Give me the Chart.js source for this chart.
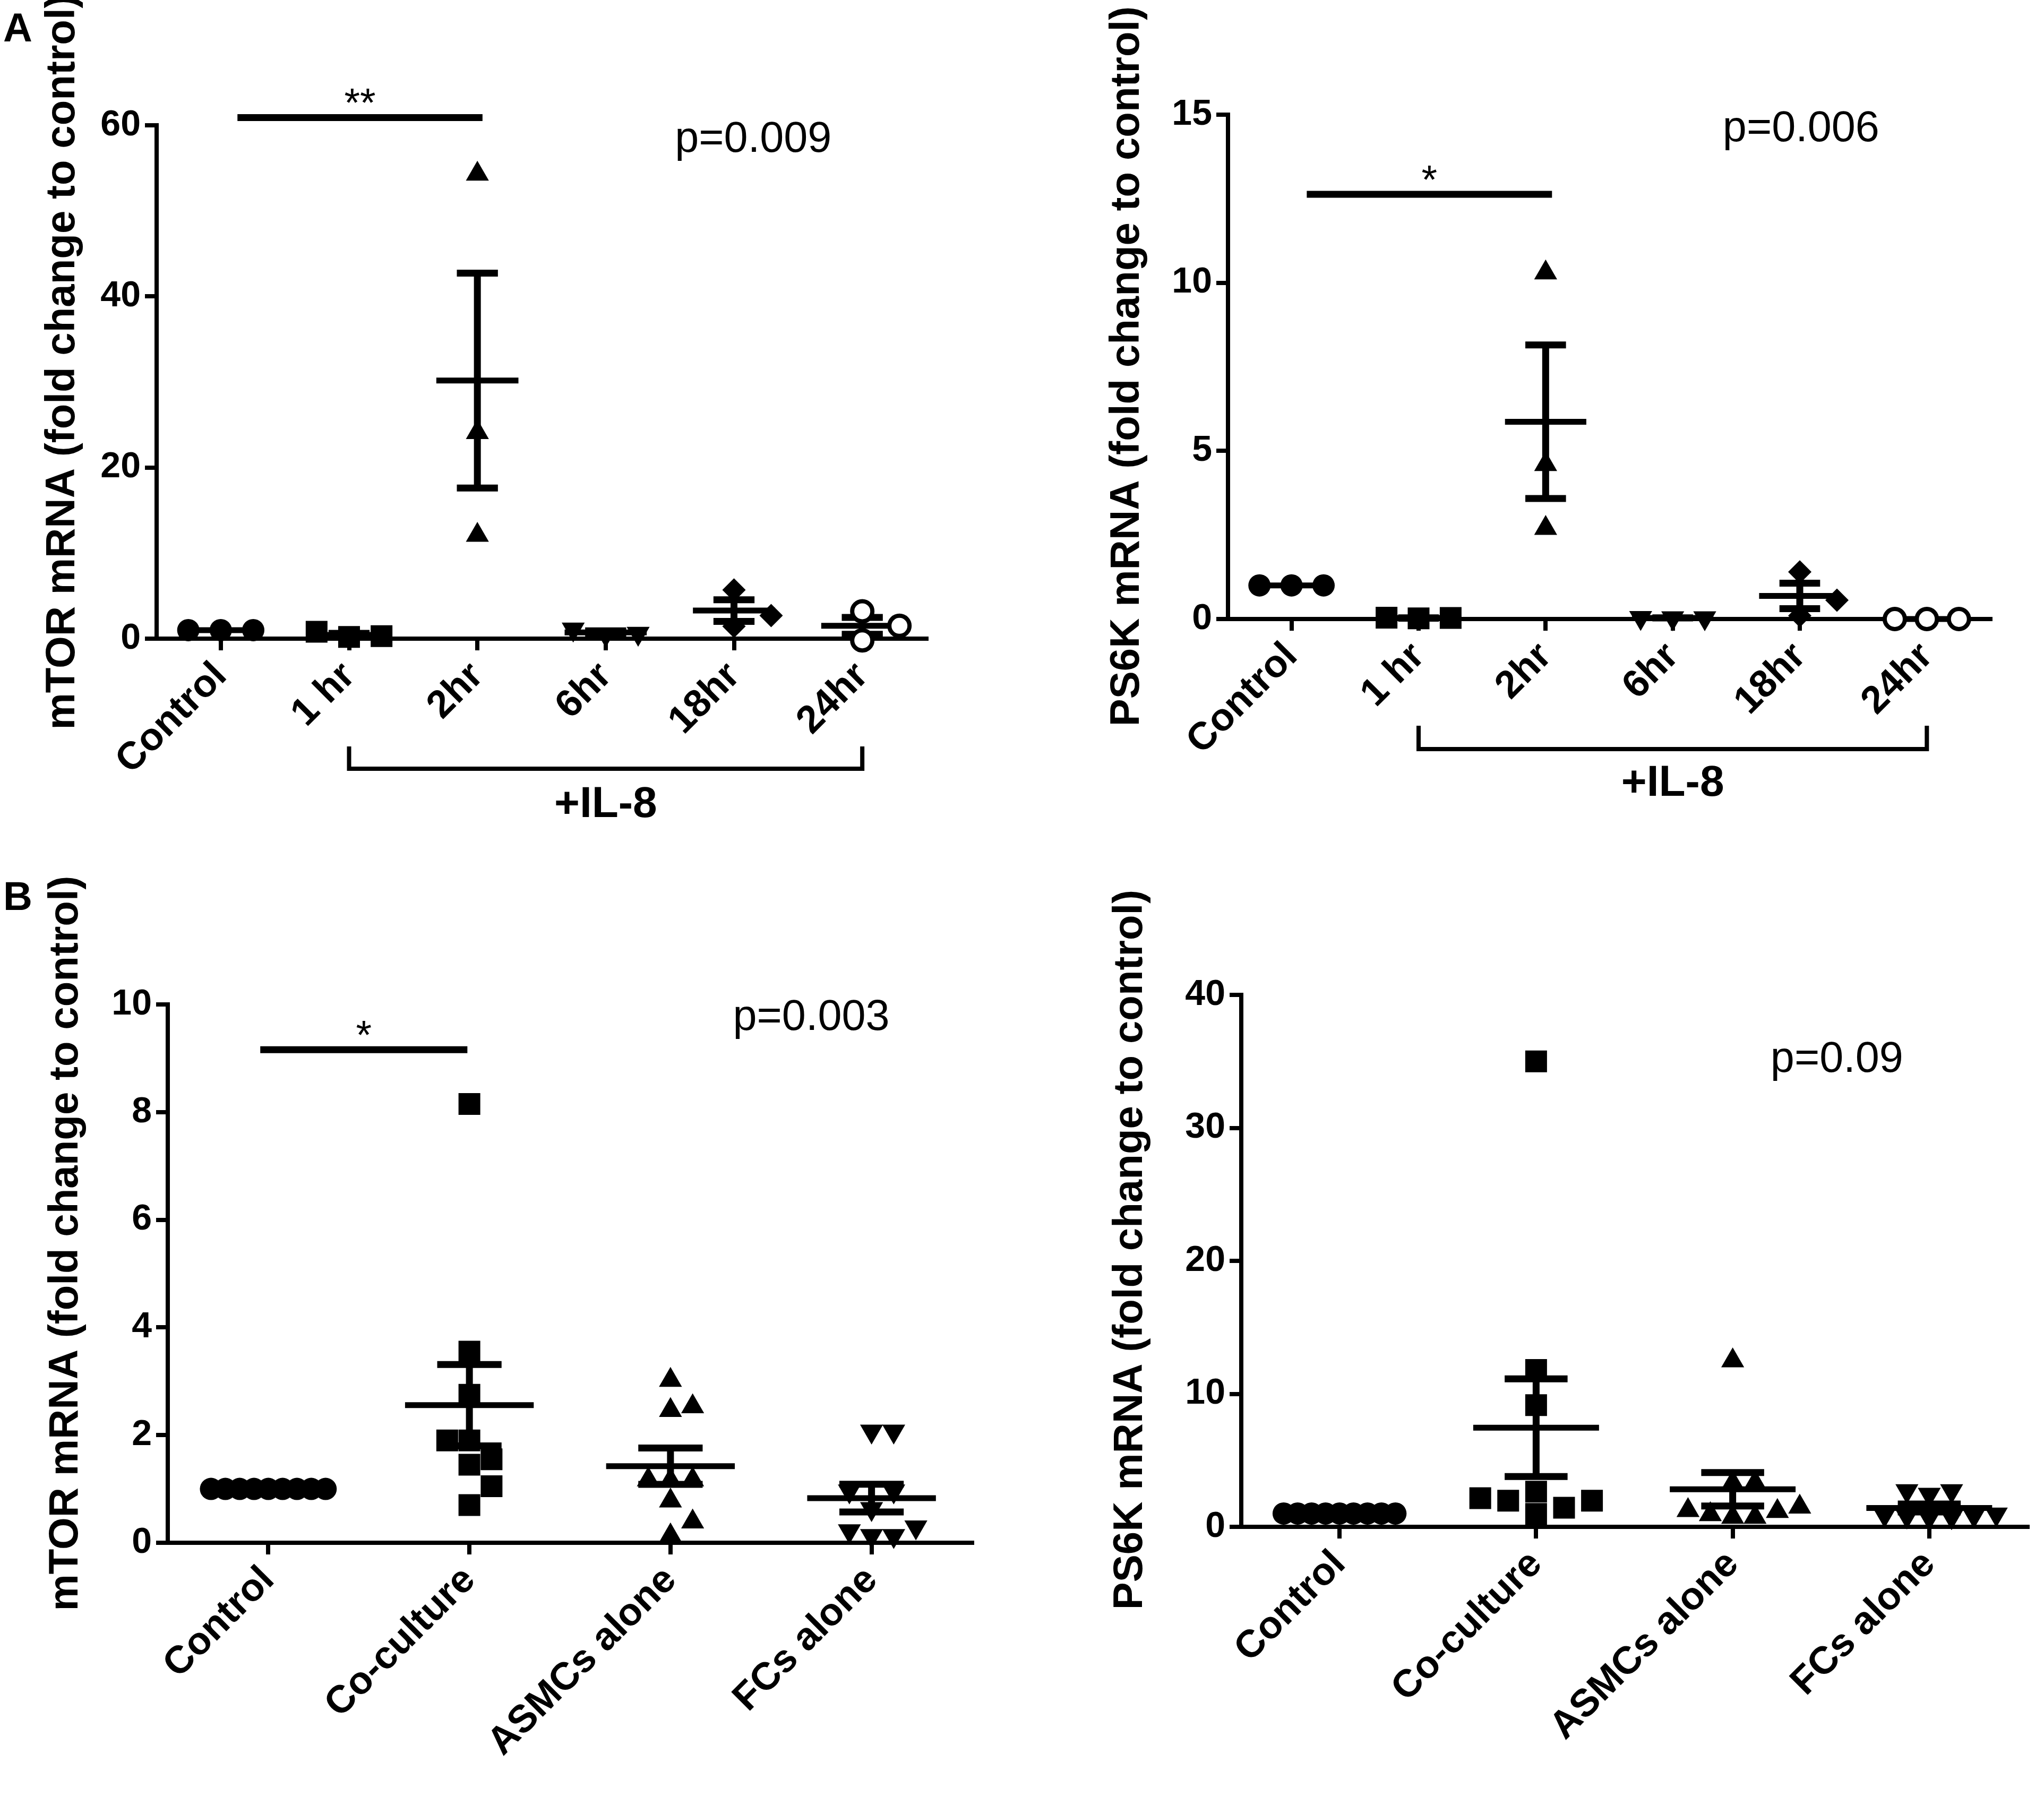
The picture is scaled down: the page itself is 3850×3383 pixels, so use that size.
<!DOCTYPE html>
<html>
<head>
<meta charset="utf-8">
<script src="https://cdn.jsdelivr.net/npm/chart.js@4.4.1/dist/chart.umd.min.js"></script>
<style>
body { margin: 0; background: #fff; width: 3850px; height: 3383px; position: relative; overflow: hidden; font-family: "Liberation Sans", Arial, sans-serif; }
canvas { position: absolute; }
.letter { position: absolute; font-weight: bold; font-size: 76px; line-height: 1; color: #000; }
</style>
</head>
<body>
<div class="letter" style="left:6px;top:14px">A</div>
<div class="letter" style="left:6px;top:1650px">B</div>
<canvas id="chart-a1"></canvas>
<canvas id="chart-a2"></canvas>
<canvas id="chart-b1"></canvas>
<canvas id="chart-b2"></canvas>
<script>
const FONT = '"Liberation Sans", Arial, sans-serif';

// ---- data ----
const timeLabels = ["Control", "1 hr", "2hr", "6hr", "18hr", "24hr"];
const mtorTime = [
    [1, 1, 1],
    [0.2, 0.8, 0.3],
    [54.3, 24.1, 12.1],
    [0.5, 1.1, 0.6],
    [5.7, 1.45, 2.7],
    [3.2, -0.2, 1.5]
];
const ps6kTime = [
    [1, 1, 1],
    [0.03, 0.02, 0.04],
    [10.3, 4.6, 2.7],
    [0.03, 0.04, 0.03],
    [1.4, 0.1, 0.56],
    [0, 0, 0]
];

const groupLabels = ["Control", "Co-culture", "ASMCs alone", "FCs alone"];
const mtorGroup = [
    [1, 1, 1, 1, 1, 1, 1, 1, 1],
    [8.15, 3.55, 2.75, 1.9, 1.9, 1.55, 1.45, 1.05, 0.7],
    [3.02, 2.46, 2.53, 1.16, 1.17, 1.17, 0.78, 0.39, 0.13],
    [2.07, 2.07, 0.96, 0.96, 0.63, 0.29, 0.13, 0.13, 0.22]
];
const ps6kGroup = [
    [1, 1, 1, 1, 1, 1, 1, 1, 1],
    [35, 11.8, 9.15, 2.64, 2.16, 1.97, 1.97, 1.44, 0.97],
    [12.5, 3.3, 3.3, 1.5, 1.24, 1.17, 0.93, 0.73, 0.73],
    [2.7, 2.44, 2.7, 0.9, 0.8, 0.75, 0.85, 0.7, 0.95]
];

// ---- marker styles (GraphPad-like) ----
const markersTime = [
    { style: "circle", radius: 21 },
    { style: "rect", radius: 29 },
    { style: "triangle", radius: 25 },
    { style: "triangle", radius: 25, rotation: 180 },
    { style: "rectRot", radius: 22 },
    { style: "circle", radius: 19, open: true }
];
const markersGroup = [
    { style: "circle", radius: 21 },
    { style: "rect", radius: 29 },
    { style: "triangle", radius: 25 },
    { style: "triangle", radius: 25, rotation: 180 }
];

// ---- layout of the four panels (page pixels) ----
const panels = [
    {
        id: "chart-a1", labels: timeLabels, values: mtorTime, markers: markersTime,
        title: "mTOR mRNA (fold change to control)", yMax: 60, yStep: 20,
        box: { left: 72, top: 0, width: 1733, height: 1603 },
        area: { left: 295, top: 236, right: 1745, bottom: 1203 },
        titlePos: { x: 118, y: 682 }, stepMax: 70,
        sig: { x1: 0.13, x2: 2.04, y: 60.9, text: "**" },
        p: { x: 4.15, y: 58.3, text: "p=0.009" },
        bracket: { x1: 1, x2: 5, yTop: 203, yLine: 245, yText: 313, text: "+IL-8" }
    },
    {
        id: "chart-a2", labels: timeLabels, values: ps6kTime, markers: markersTime,
        title: "PS6K mRNA (fold change to control)", yMax: 15, yStep: 5,
        box: { left: 2077, top: 0, width: 1732, height: 1566 },
        area: { left: 2313, top: 216, right: 3749, bottom: 1166 },
        titlePos: { x: 2123, y: 690 }, stepMax: 70,
        sig: { x1: 0.12, x2: 2.05, y: 12.63, text: "*" },
        p: { x: 4.01, y: 14.56, text: "p=0.006" },
        bracket: { x1: 1, x2: 5, yTop: 201, yLine: 245, yText: 310, text: "+IL-8" }
    },
    {
        id: "chart-b1", labels: groupLabels, values: mtorGroup, markers: markersGroup,
        title: "mTOR mRNA (fold change to control)", yMax: 10, yStep: 2,
        box: { left: 78, top: 1620, width: 1782, height: 1726 },
        area: { left: 316, top: 1892, right: 1840, bottom: 2906 },
        titlePos: { x: 124, y: 2342 }, stepMax: 42,
        sig: { x1: -0.04, x2: 0.99, y: 9.16, text: "*" },
        p: { x: 2.7, y: 9.75, text: "p=0.003" }
    },
    {
        id: "chart-b2", labels: groupLabels, values: ps6kGroup, markers: markersGroup,
        title: "PS6K mRNA (fold change to control)", yMax: 40, yStep: 10,
        box: { left: 2083, top: 1620, width: 1765, height: 1696 },
        area: { left: 2338, top: 1874, right: 3843, bottom: 2876 },
        titlePos: { x: 2129, y: 2354 }, stepMax: 55,
        p: { x: 2.53, y: 35.1, text: "p=0.09" }
    }
];

/**
 * Spread the points of one column like a scatter dot plot:
 * close values go side by side, the widest row fills the column width
 */
function swarmOffsets(values, pxPerUnit, stepMax, catPx) {
    const minDist = 38;
    const markerPx = 42;
    const colPx = 0.68 * catPx;
    const order = values.map((v, i) => i).sort((a, b) => values[a] - values[b]);
    const placed = [];
    const slots = [];
    order.forEach(function(idx) {
        for (let k = 0; ; k++) {
            const s = k === 0 ? 0 : (k % 2 ? (k + 1) / 2 : -k / 2);
            const hit = placed.some(p => p.slot === s && Math.abs(values[p.idx] - values[idx]) * pxPerUnit < minDist);
            if (!hit) {
                placed.push({ idx: idx, slot: s });
                slots[idx] = s;
                break;
            }
        }
    });
    const span = Math.max(...slots) - Math.min(...slots);
    const step = span > 0 ? Math.min(stepMax, (colPx - markerPx) / span) : 0;
    return slots.map(s => s * step / catPx);
}

function meanSem(values) {
    const n = values.length;
    const m = values.reduce((a, b) => a + b, 0) / n;
    const sd = Math.sqrt(values.reduce((a, b) => a + (b - m) * (b - m), 0) / (n - 1));
    return { mean: m, sem: sd / Math.sqrt(n) };
}

const notesPlugin = {
    id: "notes",
    afterDraw(chart) {
        const panel = panels.find(p => p.id === chart.canvas.id);
        const ctx = chart.ctx;
        const xs = chart.scales.x;
        const ys = chart.scales.y;
        const area = chart.chartArea;
        ctx.save();
        ctx.fillStyle = "#000";
        ctx.strokeStyle = "#000";

        // y axis title
        ctx.save();
        ctx.translate(panel.titlePos.x - panel.box.left, panel.titlePos.y - panel.box.top);
        ctx.rotate(-Math.PI / 2);
        ctx.font = "bold 78px " + FONT;
        ctx.textAlign = "center";
        ctx.textBaseline = "middle";
        ctx.fillText(panel.title, 0, 0);
        ctx.restore();

        // significance line and stars
        if (panel.sig) {
            const s = panel.sig;
            const y = ys.getPixelForValue(s.y);
            ctx.lineWidth = 13;
            ctx.beginPath();
            ctx.moveTo(xs.getPixelForValue(s.x1), y);
            ctx.lineTo(xs.getPixelForValue(s.x2), y);
            ctx.stroke();
            ctx.font = "76px " + FONT;
            ctx.textAlign = "center";
            ctx.textBaseline = "alphabetic";
            ctx.fillText(s.text, xs.getPixelForValue((s.x1 + s.x2) / 2), y - 2);
        }

        // p value
        if (panel.p) {
            ctx.font = "81px " + FONT;
            ctx.textAlign = "center";
            ctx.textBaseline = "middle";
            ctx.fillText(panel.p.text, xs.getPixelForValue(panel.p.x), ys.getPixelForValue(panel.p.y));
        }

        // bracket under the time points
        if (panel.bracket) {
            const b = panel.bracket;
            const x1 = xs.getPixelForValue(b.x1);
            const x2 = xs.getPixelForValue(b.x2);
            const yl = area.bottom + b.yLine;
            const yt = area.bottom + b.yTop;
            ctx.lineWidth = 8;
            ctx.beginPath();
            ctx.moveTo(x1, yt);
            ctx.lineTo(x1, yl);
            ctx.lineTo(x2, yl);
            ctx.lineTo(x2, yt);
            ctx.stroke();
            ctx.font = "bold 82px " + FONT;
            ctx.textAlign = "center";
            ctx.textBaseline = "middle";
            ctx.fillText(b.text, (x1 + x2) / 2, area.bottom + b.yText);
        }
        ctx.restore();
    }
};

function showPanel(panel) {
    const canvas = document.getElementById(panel.id);
    canvas.width = panel.box.width;
    canvas.height = panel.box.height;
    canvas.style.left = panel.box.left + "px";
    canvas.style.top = panel.box.top + "px";

    const yWidth = panel.area.left - panel.box.left;
    const xHeight = panel.box.top + panel.box.height - panel.area.bottom;
    const catPx = (panel.area.right - panel.area.left) / panel.labels.length;
    const pxPerUnit = (panel.area.bottom - panel.area.top) / panel.yMax;

    const datasets = [];
    const means = [];
    const bars = [];
    panel.values.forEach(function(vals, i) {
        const offs = swarmOffsets(vals, pxPerUnit, panel.stepMax, catPx);
        const mk = panel.markers[i];
        datasets.push({
            data: vals.map((v, j) => ({ x: i + offs[j], y: v })),
            pointStyle: mk.style,
            pointRadius: mk.radius,
            pointRotation: mk.rotation || 0,
            pointBackgroundColor: mk.open ? "#fff" : "#000",
            pointBorderColor: "#000",
            pointBorderWidth: mk.open ? 8 : 0,
            clip: false,
            order: 0
        });
        const st = meanSem(vals);
        means.push({ x: i - 0.32, y: st.mean }, { x: i + 0.32, y: st.mean }, { x: i, y: null });
        if (st.sem > 0) {
            const hi = st.mean + st.sem;
            const lo = st.mean - st.sem;
            bars.push({ x: i, y: hi }, { x: i, y: lo }, { x: i, y: null });
            bars.push({ x: i - 0.16, y: hi }, { x: i + 0.16, y: hi }, { x: i, y: null });
            bars.push({ x: i - 0.16, y: lo }, { x: i + 0.16, y: lo }, { x: i, y: null });
        }
    });
    [[means, 11], [bars, 13]].forEach(function(item) {
        datasets.push({
            type: "line",
            data: item[0],
            showLine: true,
            spanGaps: false,
            borderColor: "#000",
            borderWidth: item[1],
            pointRadius: 0,
            clip: false,
            order: 1
        });
    });

    const configChart = {
        type: "scatter",
        data: { datasets: datasets },
        options: {
            responsive: false,
            animation: false,
            devicePixelRatio: 1,
            events: [],
            layout: {
                padding: {
                    left: 0,
                    top: panel.area.top - panel.box.top,
                    right: panel.box.left + panel.box.width - panel.area.right,
                    bottom: 0
                }
            },
            plugins: {
                legend: { display: false },
                tooltip: { enabled: false }
            },
            scales: {
                x: {
                    type: "linear",
                    min: -0.5,
                    max: panel.labels.length - 0.5,
                    afterBuildTicks: function(scale) {
                        scale.ticks = panel.labels.map((l, i) => ({ value: i }));
                    },
                    afterFit: function(scale) {
                        scale.height = xHeight;
                        scale.paddingLeft = 0;
                        scale.paddingRight = 0;
                    },
                    ticks: {
                        autoSkip: false,
                        minRotation: 45,
                        maxRotation: 45,
                        padding: 6,
                        color: "#000",
                        font: { family: FONT, size: 73, weight: "bold" },
                        callback: function(v) { return panel.labels[v]; }
                    },
                    grid: {
                        drawOnChartArea: false,
                        drawTicks: true,
                        tickLength: 22,
                        tickWidth: 8,
                        tickColor: "#000",
                        color: "#000",
                        lineWidth: 8
                    },
                    border: { display: true, color: "#000", width: 8 }
                },
                y: {
                    min: 0,
                    max: panel.yMax,
                    afterFit: function(scale) {
                        scale.width = yWidth;
                        scale.paddingTop = 0;
                        scale.paddingBottom = 0;
                    },
                    ticks: {
                        stepSize: panel.yStep,
                        padding: 8,
                        color: "#000",
                        font: { family: FONT, size: 68, weight: "bold" }
                    },
                    grid: {
                        drawOnChartArea: false,
                        drawTicks: true,
                        tickLength: 22,
                        tickWidth: 8,
                        tickColor: "#000",
                        color: "#000",
                        lineWidth: 8
                    },
                    border: { display: true, color: "#000", width: 8 }
                }
            }
        },
        plugins: [notesPlugin]
    };

    return new Chart(canvas, configChart);
}

panels.forEach(showPanel);
</script>
</body>
</html>
